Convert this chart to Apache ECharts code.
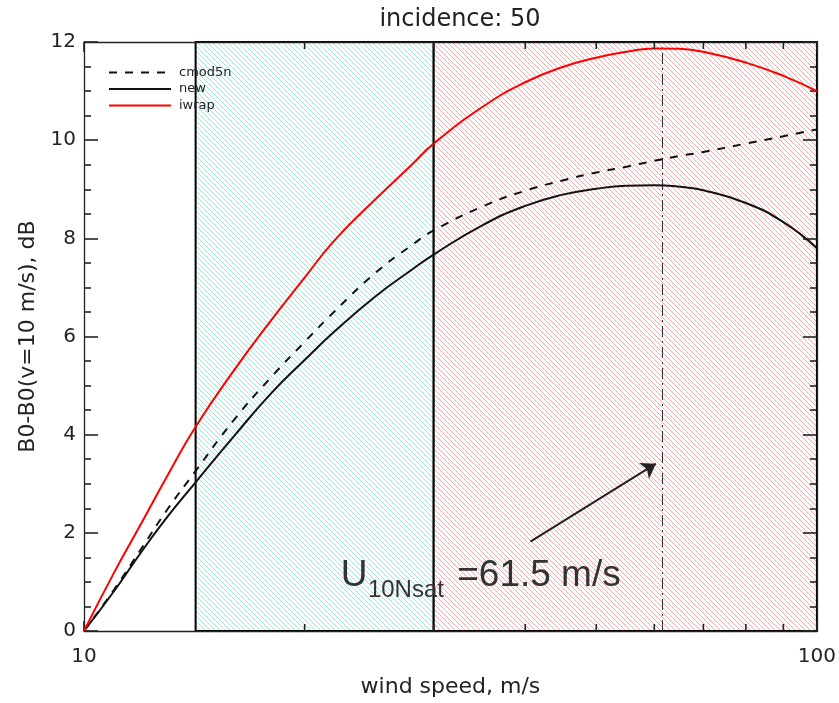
<!DOCTYPE html>
<html><head><meta charset="utf-8">
<script src="https://cdn.jsdelivr.net/npm/echarts@6/dist/echarts.min.js"></script>
<style>html,body{margin:0;padding:0;background:#fff}#c{width:839px;height:703px}</style>
</head><body><div id="c"></div>
<script>
// ---- data ----
const windSpeed = [10, 11, 12, 13, 14.2, 16, 18, 20, 22, 25, 28, 30, 35, 40, 45, 50, 55, 60, 65, 70, 80, 90, 100];
const cmod5n   = [0, 0.85, 1.70, 2.48, 3.26, 4.29, 5.17, 5.89, 6.52, 7.30, 7.86, 8.16, 8.65, 8.97, 9.18, 9.34, 9.46, 9.58, 9.68, 9.76, 9.93, 10.08, 10.22];
const newModel = [0, 0.82, 1.63, 2.33, 3.03, 3.96, 4.84, 5.52, 6.11, 6.82, 7.36, 7.67, 8.27, 8.66, 8.89, 9.01, 9.07, 9.08, 9.05, 8.98, 8.72, 8.33, 7.80];
const iwrap    = [0, 1.20, 2.22, 3.17, 4.16, 5.30, 6.33, 7.20, 7.97, 8.80, 9.50, 9.93, 10.68, 11.18, 11.49, 11.68, 11.80, 11.87, 11.86, 11.80, 11.58, 11.31, 11.00];
const seriesNames = ['cmod5n', 'new', 'iwrap'];
const xMinorTicks = [20, 30, 40, 50, 60, 70, 80, 90];
const yMinorTicks = [0.5, 1, 1.5, 2.5, 3, 3.5, 4.5, 5, 5.5, 6.5, 7, 7.5, 8.5, 9, 9.5, 10.5, 11, 11.5];
const greenRange = [14.2, 30];
const redRange = [30, 100];
const uSat = 61.5;
const arrowFrom = [40.65, 1.82];
const arrowTo = [60.3, 3.41];
const annoText = ['U', '10Nsat', '=61.5 m/s'];
const annoX = [22.4, 24.4, 32.3];
const annoY = [1.12, 0.82, 1.12];
const annoSize = [37, 24, 37];
const xMin = 10, xMax = 100;
const yMin = 0, yMax = 12, yStep = 2;

function hatch(color) {
  const c = document.createElement('canvas'); c.width = 5; c.height = 5;
  const g = c.getContext('2d');
  g.fillStyle = '#fff'; g.fillRect(0, 0, 5, 5);
  g.fillStyle = color;
  for (let i = 0; i < 5; i++) g.fillRect(i, i, 1, 1);
  return { image: c, repeat: 'repeat' };
}
const pair = (xs, ys) => xs.map((x, i) => [x, ys[i]]);

const FONT = 'DejaVu Sans';
const axisCol = '#222';
const tickW = 1.6;
const chart = echarts.init(document.getElementById('c'), null, { renderer: 'canvas' });

const yAxisBase = {
  type: 'value', min: yMin, max: yMax, interval: yStep, z: 4,
  axisLine: { show: true, lineStyle: { color: axisCol, width: 1.3 } },
  axisTick: { show: true, inside: true, length: 14, lineStyle: { color: axisCol, width: tickW } },
  minorTick: { show: true, splitNumber: 4, length: 7, lineStyle: { color: axisCol, width: tickW } },
  splitLine: { show: false }
};
const xAxisBase = {
  type: 'log', logBase: 10, min: xMin, max: xMax, z: 4,
  axisLine: { show: true, onZero: false, lineStyle: { color: axisCol, width: 1.3 } },
  axisTick: { show: true, inside: true, length: 10, lineStyle: { color: axisCol, width: tickW } },
  splitLine: { show: false }
};
const tickLine = (x1, y1, x2, y2) => ({
  type: 'line', z2: 50,
  shape: { x1, y1, x2, y2 },
  style: { stroke: axisCol, lineWidth: tickW }
});

chart.setOption({
  animation: false,
  backgroundColor: '#fff',
  title: {
    text: 'incidence: 50', left: 455, textAlign: 'center', top: 3,
    textStyle: { fontFamily: FONT, fontSize: 24, fontWeight: 'normal', color: '#222' }
  },
  grid: { left: 84, right: 19, top: 42, bottom: 69, containLabel: false },
  legend: {
    data: seriesNames, orient: 'vertical', left: 103, top: 61,
    itemWidth: 62, itemHeight: 14, itemGap: 3.5,
    itemStyle: { color: 'transparent', borderWidth: 0, opacity: 0 },
    textStyle: { fontFamily: FONT, fontSize: 13, color: '#222', padding: [0, 0, 0, 3] }
  },
  xAxis: [
    Object.assign({}, xAxisBase, {
      position: 'bottom',
      axisLabel: { color: '#222', fontFamily: FONT, fontSize: 20, margin: 16 },
      name: 'wind speed, m/s', nameLocation: 'middle', nameGap: 45,
      nameTextStyle: { fontFamily: FONT, fontSize: 22, color: '#222' }
    }),
    Object.assign({}, xAxisBase, { position: 'top', axisLabel: { show: false } })
  ],
  yAxis: [
    Object.assign({}, yAxisBase, {
      position: 'left',
      axisLabel: { color: '#222', fontFamily: FONT, fontSize: 20, margin: 8 },
      name: 'B0-B0(v=10 m/s), dB', nameLocation: 'middle', nameGap: 42, nameRotate: 90,
      nameTextStyle: { fontFamily: FONT, fontSize: 22, color: '#222' }
    }),
    Object.assign({}, yAxisBase, { position: 'right', axisLabel: { show: false } })
  ],
  series: [
    {
      name: 'ticks', type: 'custom', coordinateSystem: 'cartesian2d', xAxisIndex: 0, yAxisIndex: 0,
      z: 6, silent: true, clip: false,
      data: xMinorTicks.map(v => [v, yMin]),
      encode: { x: 0, y: 1 },
      renderItem: (params, api) => {
        const v = api.value(0);
        const b = api.coord([v, yMin]);
        const t = api.coord([v, yMax]);
        return { type: 'group', children: [
          tickLine(b[0], b[1], b[0], b[1] - 7),
          tickLine(t[0], t[1], t[0], t[1] + 7)
        ] };
      },
      markArea: {
        silent: true,
        data: [
          [{ xAxis: greenRange[0], itemStyle: { color: hatch('rgb(160,232,214)'), borderColor: '#000', borderWidth: 2 } }, { xAxis: greenRange[1] }],
          [{ xAxis: redRange[0], itemStyle: { color: hatch('rgb(255,168,168)'), borderColor: '#000', borderWidth: 2 } }, { xAxis: redRange[1] }]
        ]
      },
      markLine: {
        silent: true, symbol: 'none', animation: false,
        label: { show: false },
        data: [
          { xAxis: uSat, lineStyle: { type: [11, 4, 2, 4], color: '#333', width: 1 } },
          [
            { coord: arrowFrom, symbol: 'none', lineStyle: { type: 'solid', color: '#222', width: 2 } },
            { coord: arrowTo, symbol: 'arrow', symbolSize: 14, lineStyle: { type: 'solid', color: '#222', width: 2 } }
          ]
        ]
      },
      markPoint: {
        silent: true, symbol: 'circle', symbolSize: 0,
        data: annoText.map((t, i) => ({
          coord: [annoX[i], annoY[i]], value: t,
          label: {
            show: true, position: 'right', distance: 0, formatter: t,
            fontFamily: 'Liberation Sans', fontSize: annoSize[i], color: '#333'
          }
        }))
      }
    },
    {
      name: 'cmod5n', type: 'line', data: pair(windSpeed, cmod5n), symbol: 'none', smooth: 0.5, z: 5,
      lineStyle: { color: '#111', width: 2, type: [8, 8] }, itemStyle: { color: '#111' }
    },
    {
      name: 'new', type: 'line', data: pair(windSpeed, newModel), symbol: 'none', smooth: 0.5, z: 5,
      lineStyle: { color: '#111', width: 2, type: 'solid' }, itemStyle: { color: '#111' }
    },
    {
      name: 'iwrap', type: 'line', data: pair(windSpeed, iwrap), symbol: 'none', smooth: 0.5, z: 5,
      lineStyle: { color: '#ff0000', width: 2, type: 'solid' }, itemStyle: { color: '#ff0000' }
    }
  ]
});
</script>
</body></html>
